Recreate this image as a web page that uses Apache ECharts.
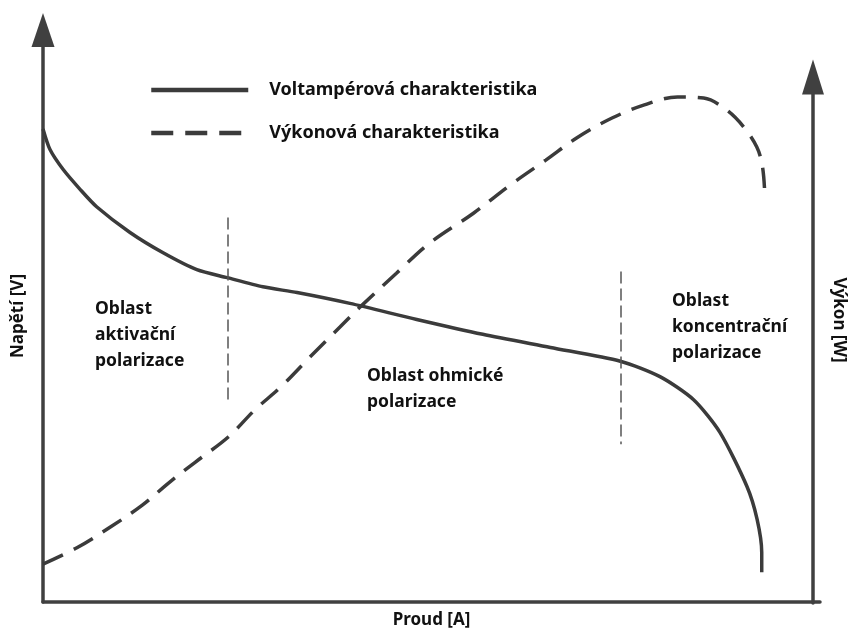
<!DOCTYPE html>
<html>
<head>
<meta charset="utf-8">
<script src="https://cdn.jsdelivr.net/npm/echarts@6/dist/echarts.min.js"></script>
<style>html,body{margin:0;padding:0;background:#fff}#chart{width:855px;height:634px}</style>
</head>
<body>
<div id="chart"></div>
<script>
// proud / napětí / výkon v relativních jednotkách (0-100)
var proudU = [0, 0.9, 2.6, 4.8, 6.9, 11.2, 15.4, 19.8, 23.7, 28.3, 32.7, 39.5, 48.1, 56.6, 65.3, 74.3, 79.4, 83.7, 87.1, 90.6, 91.9, 92.5, 92.5];
var napeti = [82.7, 79.1, 75.6, 72.1, 69.1, 64.6, 61.1, 58.1, 56.7, 55.1, 54.1, 52.2, 49.4, 46.8, 44.5, 42.1, 39.4, 35.4, 29.7, 20.2, 14.5, 8.7, 5.2];

var proudP = [0, 4.4, 8.6, 12.9, 16.3, 19.8, 24.1, 27.5, 30.9, 34.7, 38.6, 41.2, 45.9, 50.2, 55.9, 61.0, 65.3, 69.5, 73.9, 78.1, 82.4, 85.8, 88.8, 91.0, 92.7, 93.4, 93.7];
var vykon = [7.4, 10.5, 14.3, 18.6, 22.8, 26.8, 31.6, 36.7, 41.1, 46.8, 52.5, 56.3, 62.7, 68.4, 74.1, 79.8, 84.2, 88.6, 92.2, 94.7, 96.2, 96.0, 93.7, 90.5, 86.7, 83.3, 78.9];

// hranice oblastí (svislé čárkované čáry)
var hraniceX = [23.8, 74.3];
var hraniceOd = [67.2, 57.8];
var hraniceDo = [35.1, 27.6];

var nazvy = ['Voltampérová charakteristika', 'Výkonová charakteristika'];
var oblasti = ['Oblast\naktivační\npolarizace', 'Oblast ohmické\npolarizace', 'Oblast\nkoncentrační\npolarizace'];

function zip(a, b) {
    return a.map(function (v, i) { return [v, b[i]]; });
}

var barva = '#3b3b3b';
var pismo = '"Noto Sans", sans-serif';
var osa = { color: '#404040', width: 3.5 };

var myChart = echarts.init(document.getElementById('chart'));

var option = {
    animation: false,
    backgroundColor: '#fff',
    grid: [
        { left: 43, right: 35, top: 30, bottom: 31 },
        { left: 43, right: 35, top: 77, bottom: 31 }
    ],
    legend: {
        orient: 'vertical',
        left: 144,
        top: 76,
        itemWidth: 97,
        itemHeight: 22,
        itemGap: 25,
        data: nazvy,
        textStyle: { fontFamily: pismo, fontWeight: 'bold', fontSize: 18, color: '#111', padding: [0, 0, 0, 16] },
        itemStyle: { color: 'rgba(0,0,0,0)', borderWidth: 0, opacity: 0 },
        lineStyle: { width: 4.5 }
    },
    xAxis: [{
        type: 'value', gridIndex: 0, min: 0, max: 100,
        axisLine: { show: true, onZero: false, lineStyle: osa },
        axisTick: { show: false }, axisLabel: { show: false }, splitLine: { show: false },
        name: 'Proud [A]', nameLocation: 'middle', nameGap: 10,
        nameTextStyle: { fontFamily: pismo, fontWeight: 'bold', fontSize: 17, color: '#111', verticalAlign: 'top' }
    }, {
        type: 'value', gridIndex: 1, min: 0, max: 100, show: false
    }],
    yAxis: [{
        type: 'value', gridIndex: 0, position: 'left', min: 0, max: 100,
        axisLine: { show: true, onZero: false, symbol: ['none', 'triangle'], symbolSize: [23, 34], lineStyle: osa },
        axisTick: { show: false }, axisLabel: { show: false }, splitLine: { show: false },
        name: 'Napětí [V]', nameLocation: 'middle', nameGap: 16, nameRotate: 90,
        nameTextStyle: { fontFamily: pismo, fontWeight: 'bold', fontSize: 17, color: '#111' }
    }, {
        type: 'value', gridIndex: 1, position: 'right', min: 0, max: 100,
        axisLine: { show: true, onZero: false, symbol: ['none', 'triangle'], symbolSize: [22, 35], lineStyle: osa },
        axisTick: { show: false }, axisLabel: { show: false }, splitLine: { show: false },
        name: 'Výkon [W]', nameLocation: 'middle', nameGap: 17, nameRotate: -90,
        nameTextStyle: { fontFamily: pismo, fontWeight: 'bold', fontSize: 17, color: '#111', padding: [0, 40, 0, 0] }
    }],
    series: [{
        name: nazvy[0],
        type: 'line',
        xAxisIndex: 0, yAxisIndex: 0,
        data: zip(proudU, napeti),
        symbol: 'none',
        smooth: 0.25,
        itemStyle: { color: barva },
        lineStyle: { color: barva, width: 3.5 },
        markLine: {
            silent: true,
            symbol: ['none', 'none'],
            label: { show: false },
            lineStyle: { color: '#555', width: 1.5, type: [12, 5] },
            data: hraniceX.map(function (x, i) {
                return [{ coord: [x, hraniceOd[i]] }, { coord: [x, hraniceDo[i]] }];
            })
        }
    }, {
        name: nazvy[1],
        type: 'line',
        xAxisIndex: 1, yAxisIndex: 1,
        data: zip(proudP, vykon),
        symbol: 'none',
        smooth: 0.35,
        itemStyle: { color: barva },
        lineStyle: { color: barva, width: 3.5, type: [22, 12] }
    }],
    graphic: [
        { type: 'text', left: 95, top: 296, style: { text: oblasti[0], font: 'bold 17.5px ' + pismo, fill: '#111', lineHeight: 26 } },
        { type: 'text', left: 367, top: 363, style: { text: oblasti[1], font: 'bold 17.5px ' + pismo, fill: '#111', lineHeight: 26 } },
        { type: 'text', left: 672, top: 288, style: { text: oblasti[2], font: 'bold 17.5px ' + pismo, fill: '#111', lineHeight: 26 } }
    ]
};

myChart.setOption(option);
</script>
</body>
</html>
